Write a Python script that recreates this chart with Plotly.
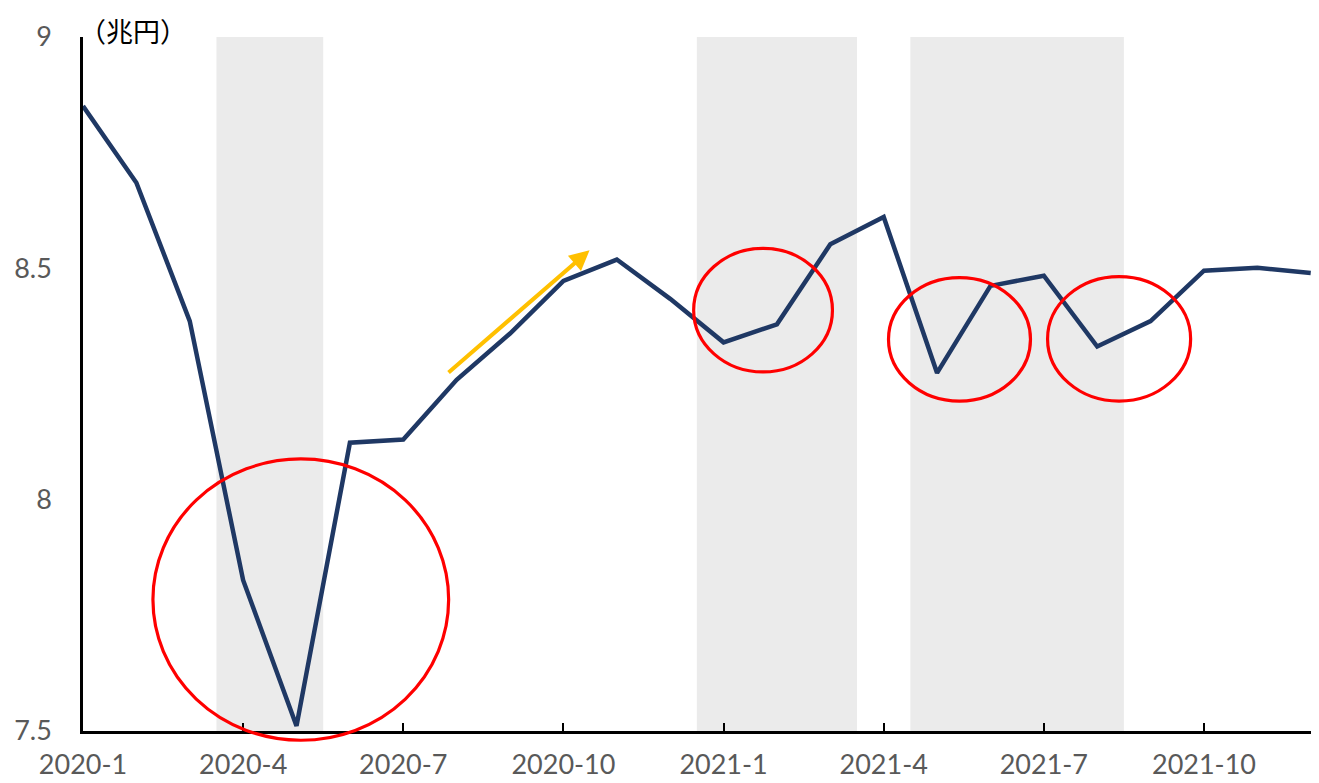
import plotly.graph_objects as go

months = ["2020-1", "2020-2", "2020-3", "2020-4", "2020-5", "2020-6", "2020-7", "2020-8",
          "2020-9", "2020-10", "2020-11", "2020-12", "2021-1", "2021-2", "2021-3", "2021-4",
          "2021-5", "2021-6", "2021-7", "2021-8", "2021-9", "2021-10", "2021-11", "2021-12"]
values = [8.851, 8.685, 8.386, 7.826, 7.511, 8.123, 8.130, 8.259,
          8.359, 8.473, 8.519, 8.434, 8.340, 8.379, 8.552, 8.611,
          8.274, 8.462, 8.484, 8.331, 8.386, 8.495, 8.501, 8.490]
tick_labels = ["2020-1", "2020-4", "2020-7", "2020-10", "2021-1", "2021-4", "2021-7", "2021-10"]
y_ticks = [7.5, 8, 8.5, 9]
y_tick_text = ["7.5", "8", "8.5", "9"]

X_RANGE = [0, 23.08]
Y_RANGE = [7.5, 9]

# shaded periods (category index bounds)
shade_periods = [(2.5, 4.5), (11.5, 14.5), (15.5, 19.5)]
# highlighted ellipses (x0, x1, y0, y1) in data units
ellipses = [(1.31, 6.85, 7.480, 8.088), (11.44, 14.04, 8.276, 8.543),
            (15.09, 17.75, 8.213, 8.480), (18.07, 20.75, 8.213, 8.482)]


def px(x):
    return (x - X_RANGE[0]) / (X_RANGE[1] - X_RANGE[0])


def py(y):
    return (y - Y_RANGE[0]) / (Y_RANGE[1] - Y_RANGE[0])


fig = go.Figure()
fig.add_trace(go.Scatter(x=months, y=values, mode="lines",
                         line=dict(color="#1F3864", width=4.5), showlegend=False,
                         hoverinfo="x+y"))

shapes = []
for a, b in shade_periods:
    shapes.append(dict(type="rect", xref="x", yref="paper", x0=a, x1=b, y0=0, y1=1,
                       fillcolor="#EBEBEB", line=dict(width=0), layer="below"))
for x0, x1, y0, y1 in ellipses:
    # paper refs so the ellipse is not clipped at the axis
    shapes.append(dict(type="circle", xref="paper", yref="paper",
                       x0=px(x0), x1=px(x1), y0=py(y0), y1=py(y1),
                       line=dict(color="#FF0000", width=3.2), fillcolor="rgba(0,0,0,0)",
                       layer="above"))

# page body has an 8px default margin, so the figure is 8px smaller on each offset side
fig.update_layout(
    width=1311, height=775,
    margin=dict(l=75, r=4, t=29, b=52, autoexpand=False),
    paper_bgcolor="white", plot_bgcolor="white",
    shapes=shapes,
    xaxis=dict(type="category", range=X_RANGE, tickmode="array",
               tickvals=tick_labels, ticktext=tick_labels, automargin=False,
               ticks="inside", ticklen=8, tickwidth=1.5, tickcolor="black",
               showline=True, linecolor="black", linewidth=2.5, showgrid=False,
               zeroline=False, ticklabelstandoff=8,
               tickfont=dict(family="Lato, sans-serif", size=27, color="#595959")),
    yaxis=dict(range=Y_RANGE, tickmode="array", tickvals=y_ticks, ticktext=y_tick_text,
               showline=True, linecolor="black", linewidth=2.5, showgrid=False,
               zeroline=False, ticks="", ticklabelstandoff=23, automargin=False,
               tickfont=dict(family="Lato, sans-serif", size=27, color="#595959")),
    annotations=[
        dict(text="（兆円）", xref="paper", yref="paper", x=0, y=1.04,
             xanchor="left", yanchor="top", xshift=-6, showarrow=False,
             font=dict(family="Noto Sans CJK JP", size=27, color="black")),
        dict(x=9.49, y=8.539, ax=6.82, ay=8.272, xref="x", yref="y",
             axref="x", ayref="y", text="", showarrow=True, arrowhead=2,
             arrowsize=1, arrowwidth=4, arrowcolor="#FFC000", standoff=0),
    ],
)

fig.write_html("out.html")
